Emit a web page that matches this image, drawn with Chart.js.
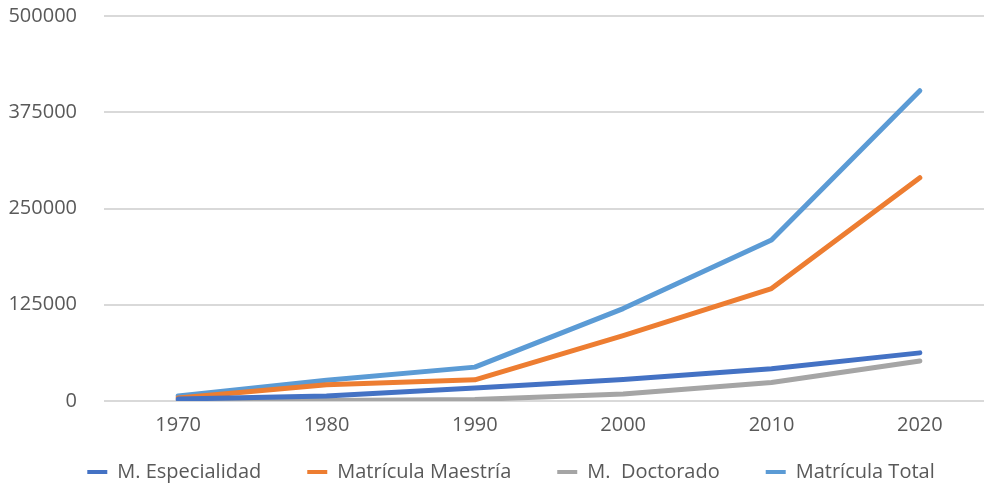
<!DOCTYPE html>
<html>
<head>
<meta charset="utf-8">
<script src="https://cdn.jsdelivr.net/npm/chart.js@4"></script>
<style>
  html, body { margin: 0; padding: 0; background: #fff; overflow: hidden; }
  #wrap { position: absolute; left: 0; top: 0; width: 984px; height: 487px; overflow: hidden; }
</style>
</head>
<body>
<div id="wrap"><canvas id="c" width="1000" height="487"></canvas></div>
<script>
// chart data
const years = ['1970', '1980', '1990', '2000', '2010', '2020'];
const especialidad = [2500, 6500, 17000, 28000, 42000, 62500];
const maestria = [4000, 21000, 27500, 85000, 146000, 290000];
const doctorado = [300, 600, 2000, 9000, 24000, 52000];
const total = [6500, 27000, 44000, 120000, 209000, 403000];
const yTicks = [0, 125000, 250000, 375000, 500000];

const textColor = '#595959';
const font = { family: '"Open Sans", sans-serif', size: 20 };

function line(label, data, color) {
  return {
    label: label,
    data: data,
    borderColor: color,
    backgroundColor: color,
    borderWidth: 5,
    borderCapStyle: 'round',
    borderJoinStyle: 'round',
    pointRadius: 0,
    tension: 0,
    fill: false
  };
}

// legend sits lower and a bit to the right, like the original
const legendShift = {
  id: 'legendShift',
  afterLayout(chart) {
    const lg = chart.legend;
    lg.top = 416;
    lg.bottom = chart.height;
    lg.left += 14;
    lg.right += 14;
  }
};

const ctx = document.getElementById('c').getContext('2d');
const myChart = new Chart(ctx, {
  type: 'line',
  data: {
    labels: years,
    datasets: [
      line('M. Especialidad', especialidad, '#4472c4'),
      line('Matrícula Maestría', maestria, '#ed7d31'),
      line('M.  Doctorado', doctorado, '#a5a5a5'),
      line('Matrícula Total', total, '#5b9bd5')
    ]
  },
  plugins: [legendShift],
  options: {
    responsive: false,
    animation: false,
    layout: { padding: { top: 1, right: 6, bottom: 26, left: 0 } },
    plugins: {
      tooltip: { enabled: false },
      legend: {
        position: 'bottom',
        maxHeight: 20,
        labels: {
          color: textColor,
          font: font,
          boxWidth: 20,
          boxHeight: 4,
          padding: 46,
          generateLabels: (chart) =>
            Chart.defaults.plugins.legend.labels.generateLabels(chart)
              .map(item => Object.assign(item, { lineWidth: 0 }))
        }
      }
    },
    scales: {
      x: {
        offset: true,
        afterFit: (scale) => { scale.height = 40; },
        grid: { display: false, drawTicks: false },
        border: { display: false },
        ticks: { color: textColor, font: font, padding: 12, maxRotation: 0 }
      },
      y: {
        min: 0,
        max: 500000,
        afterBuildTicks: (scale) => { scale.ticks = yTicks.map(v => ({ value: v })); },
        afterFit: (scale) => { scale.width = 104; },
        grid: { color: '#d9d9d9', lineWidth: 2, tickLength: 23, tickColor: 'rgba(0,0,0,0)' },
        border: { display: false },
        ticks: {
          color: textColor,
          font: font,
          padding: 4,
          callback: (v) => String(v)
        }
      }
    }
  }
});
</script>
</body>
</html>
